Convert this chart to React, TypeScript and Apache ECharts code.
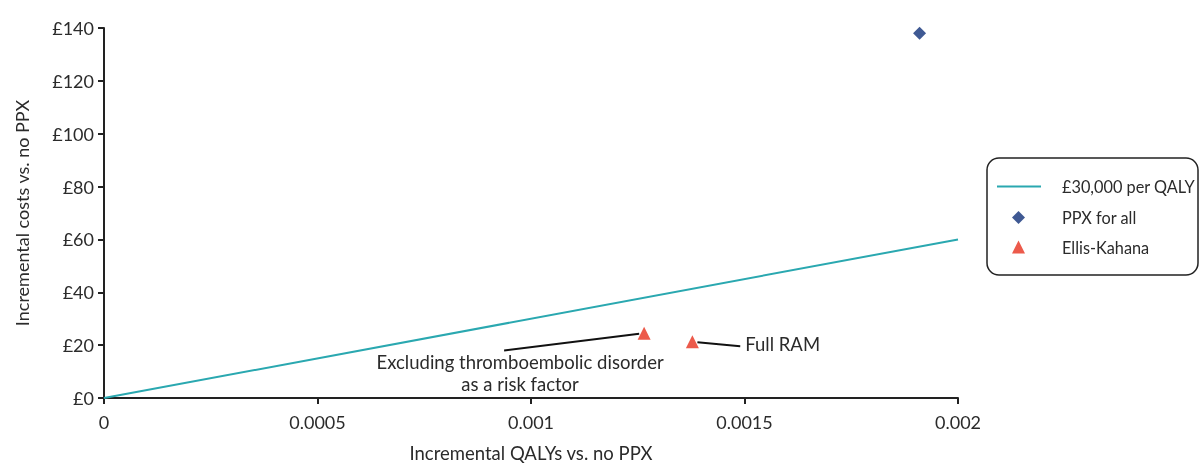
import React, { useEffect, useRef } from "react";
import * as echarts from "echarts";

const thresholdLine: [number, number][] = [
  [0, 0],
  [0.002, 60],
];
const ppxForAll: [number, number][] = [[0.00191, 138]];
const ellisKahana: [number, number][] = [
  [0.001265, 24.5],
  [0.001378, 21.3],
];
const annotationTexts = ["Excluding thromboembolic disorder\nas a risk factor", "Full RAM"];
// connector end points (data coordinates) for each Ellis-Kahana annotation
const annotationAnchors: [number, number][] = [
  [0.000937, 18.0],
  [0.00149, 19.6],
];
const xTicks = [0, 0.0005, 0.001, 0.0015, 0.002];
const yTicks = [0, 20, 40, 60, 80, 100, 120, 140];

const FONT = "Lato";
const TEXT = "#2b2b2b";
const LINE_COLOR = "#2aa8b0";
const PPX_COLOR = "#3f5993";
const EK_COLOR = "#ec5a4b";

export default function App() {
  const ref = useRef<HTMLDivElement>(null);
  useEffect(() => {
    if (!ref.current) return;
    const chart = echarts.init(ref.current, undefined, { renderer: "svg" });
    const legendText = { fontFamily: FONT, fontSize: 16.3, color: TEXT };
    const option: any = {
      animation: false,
      textStyle: { fontFamily: FONT },
      grid: {
        left: 104,
        right: 246,
        top: 28,
        bottom: 66,
        containLabel: false,
        outerBoundsMode: "none",
      },
      xAxis: {
        type: "value",
        min: xTicks[0],
        max: xTicks[xTicks.length - 1],
        interval: 0.0005,
        name: "Incremental QALYs vs. no PPX",
        nameLocation: "middle",
        nameGap: 45,
        nameTextStyle: { fontFamily: FONT, fontSize: 18.5, color: TEXT },
        axisLine: { lineStyle: { color: "#222", width: 2 } },
        axisTick: { show: true, length: 6, lineStyle: { color: "#222", width: 2 } },
        axisLabel: {
          fontFamily: FONT,
          fontSize: 18,
          color: TEXT,
          margin: 15,
          formatter: (v: number) => String(parseFloat(v.toPrecision(6))),
        },
        splitLine: { show: false },
      },
      yAxis: {
        type: "value",
        min: yTicks[0],
        max: yTicks[yTicks.length - 1],
        interval: 20,
        name: "Incremental costs vs. no PPX",
        nameLocation: "middle",
        nameGap: 73,
        nameTextStyle: { fontFamily: FONT, fontSize: 18, color: TEXT },
        axisLine: { show: true, lineStyle: { color: "#222", width: 2 } },
        axisTick: { show: true, length: 6, lineStyle: { color: "#222", width: 2 } },
        axisLabel: {
          fontFamily: FONT,
          fontSize: 18,
          color: TEXT,
          margin: 10,
          formatter: (v: number) => "£" + v,
        },
        splitLine: { show: false },
      },
      legend: [
        {
          orient: "vertical",
          left: 997,
          top: 178.5,
          padding: 0,
          itemWidth: 44,
          itemHeight: 2,
          textStyle: { ...legendText, padding: [0, 0, 0, 16] },
          data: [{ name: "£30,000 per QALY", icon: "rect" }],
        },
        {
          orient: "vertical",
          left: 1012,
          top: 209.5,
          padding: 0,
          itemWidth: 13,
          itemHeight: 13,
          itemGap: 13.5,
          textStyle: { ...legendText, padding: [0, 0, 0, 32] },
          data: [
            { name: "PPX for all", icon: "diamond" },
            { name: "Ellis-Kahana", icon: "triangle" },
          ],
        },
      ],
      series: [
        {
          name: "£30,000 per QALY",
          type: "line",
          data: thresholdLine,
          showSymbol: false,
          symbol: "none",
          lineStyle: { color: LINE_COLOR, width: 2 },
          itemStyle: { color: LINE_COLOR },
          z: 1,
        },
        {
          name: "PPX for all",
          type: "scatter",
          data: ppxForAll,
          symbol: "diamond",
          symbolSize: 13,
          itemStyle: { color: PPX_COLOR, opacity: 1 },
        },
        {
          name: "Ellis-Kahana",
          type: "scatter",
          data: ellisKahana,
          symbol: "triangle",
          symbolSize: 13,
          itemStyle: { color: EK_COLOR, opacity: 1 },
        },
      ],
    };
    chart.setOption(option);

    const graphics: any[] = [
      {
        type: "rect",
        shape: { x: 987, y: 158, width: 211, height: 117, r: 12 },
        style: { fill: "none", stroke: "#222", lineWidth: 1.5 },
        silent: true,
        z: -1,
      },
    ];
    ellisKahana.forEach((pt, i) => {
      const p = chart.convertToPixel({ gridIndex: 0 }, pt) as number[];
      const a = chart.convertToPixel({ gridIndex: 0 }, annotationAnchors[i]) as number[];
      const dx = a[0] - p[0];
      const dy = a[1] - p[1];
      const len = Math.sqrt(dx * dx + dy * dy);
      const sx = p[0] + (dx / len) * 5;
      const sy = p[1] + (dy / len) * 5;
      graphics.push({
        type: "line",
        shape: { x1: sx, y1: sy, x2: a[0], y2: a[1] },
        style: { stroke: "#111", lineWidth: 2 },
        silent: true,
      });
      if (i === 0) {
        graphics.push({
          type: "text",
          x: a[0] + 16,
          y: a[1] + 1,
          style: {
            text: annotationTexts[i],
            fontFamily: FONT,
            fontSize: 18.5,
            lineHeight: 22,
            fill: TEXT,
            align: "center",
            verticalAlign: "top",
          },
          silent: true,
        });
      } else {
        graphics.push({
          type: "text",
          x: a[0] + 5,
          y: a[1] - 2,
          style: {
            text: annotationTexts[i],
            fontFamily: FONT,
            fontSize: 18.5,
            fill: TEXT,
            align: "left",
            verticalAlign: "middle",
          },
          silent: true,
        });
      }
    });
    chart.setOption({ graphic: graphics });

    return () => chart.dispose();
  }, []);
  return (
    <div
      ref={ref}
      style={{ position: "fixed", left: 0, top: 0, width: 1204, height: 464 }}
    />
  );
}
